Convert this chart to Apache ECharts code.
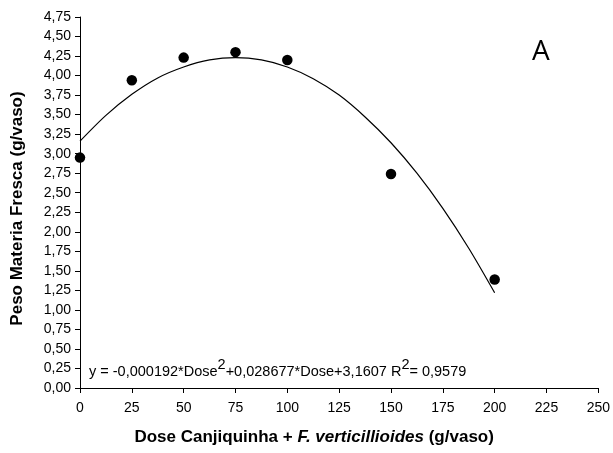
<!DOCTYPE html>
<html>
<head>
<meta charset="utf-8">
<script src="https://cdn.jsdelivr.net/npm/echarts@6/dist/echarts.min.js"></script>
<style>
  html, body { margin: 0; padding: 0; background: #fff; }
  #chart { width: 613px; height: 453px; }
</style>
</head>
<body>
<div id="chart"></div>
<script>
// observed points (dose, fresh weight)
const doses = [0, 25, 50, 75, 100, 150, 200];
const pesoFresco = [2.95, 3.94, 4.23, 4.30, 4.20, 2.74, 1.39];

// fitted curve
const curveDoses = [0, 12.5, 25, 37.5, 50, 62.5, 75, 87.5, 100, 112.5, 125, 137.5, 150, 162.5, 175, 187.5, 200];
const curveValues = [3.16, 3.49, 3.76, 3.97, 4.11, 4.20, 4.23, 4.20, 4.11, 3.96, 3.75, 3.47, 3.14, 2.75, 2.30, 1.79, 1.22];

const font = '"Liberation Sans", Arial, sans-serif';

const chart = echarts.init(document.getElementById('chart'));

chart.setOption({
    animation: false,
    grid: { left: 80, right: 14, top: 17, bottom: 65 },
    xAxis: {
        type: 'value',
        min: 0,
        max: 250,
        interval: 25,
        splitLine: { show: false },
        axisLine: { lineStyle: { color: '#000', width: 1 } },
        axisTick: { length: 5, lineStyle: { color: '#000' } },
        axisLabel: { color: '#000', fontFamily: font, fontSize: 14, margin: 13 },
        name: '{b|Dose Canjiquinha + }{i|F. verticillioides}{b| (g/vaso)}',
        nameLocation: 'middle',
        nameGap: 41,
        nameTextStyle: {
            padding: [0, 50, 0, 0],
            rich: {
                b: { fontFamily: font, fontSize: 17, fontWeight: 'bold', color: '#000' },
                i: { fontFamily: font, fontSize: 17, fontWeight: 'bold', fontStyle: 'italic', color: '#000' }
            }
        }
    },
    yAxis: {
        type: 'value',
        min: 0,
        max: 4.75,
        interval: 0.25,
        splitLine: { show: false },
        axisLine: { show: true, lineStyle: { color: '#000', width: 1 } },
        axisTick: { show: true, length: 5, lineStyle: { color: '#000' } },
        axisLabel: {
            color: '#000', fontFamily: font, fontSize: 14, margin: 9,
            formatter: v => v.toFixed(2).replace('.', ',')
        },
        name: 'Peso Materia Fresca (g/vaso)',
        nameLocation: 'middle',
        nameGap: 54,
        nameTextStyle: {
            fontFamily: font, fontSize: 17, fontWeight: 'bold', color: '#000',
            padding: [0, 12, 0, 0]
        }
    },
    series: [
        {
            type: 'line',
            data: curveDoses.map((d, i) => [d, curveValues[i]]),
            smooth: 0.3,
            showSymbol: false,
            lineStyle: { color: '#000', width: 1.2 },
            z: 2
        },
        {
            type: 'scatter',
            data: doses.map((d, i) => [d, pesoFresco[i]]),
            symbol: 'circle',
            symbolSize: 10.5,
            itemStyle: { color: '#000', opacity: 1 },
            z: 3
        }
    ],
    graphic: [
        {
            type: 'text',
            left: 532,
            top: 38,
            style: { text: 'A', font: '28px "Open Sans", sans-serif', fill: '#000' }
        },
        {
            type: 'text',
            left: 89,
            top: 357,
            style: {
                text: '{n|y = -0,000192*Dose}{s|2}{n|+0,028677*Dose+3,1607 R}{s|2}{n|= 0,9579}',
                rich: {
                    n: { fontFamily: font, fontSize: 14.5, color: '#000', verticalAlign: 'bottom', lineHeight: 22 },
                    s: { fontFamily: font, fontSize: 14.5, color: '#000', verticalAlign: 'top', lineHeight: 22, padding: [0, 0, 8, 0] }
                }
            }
        }
    ]
});
</script>
</body>
</html>
